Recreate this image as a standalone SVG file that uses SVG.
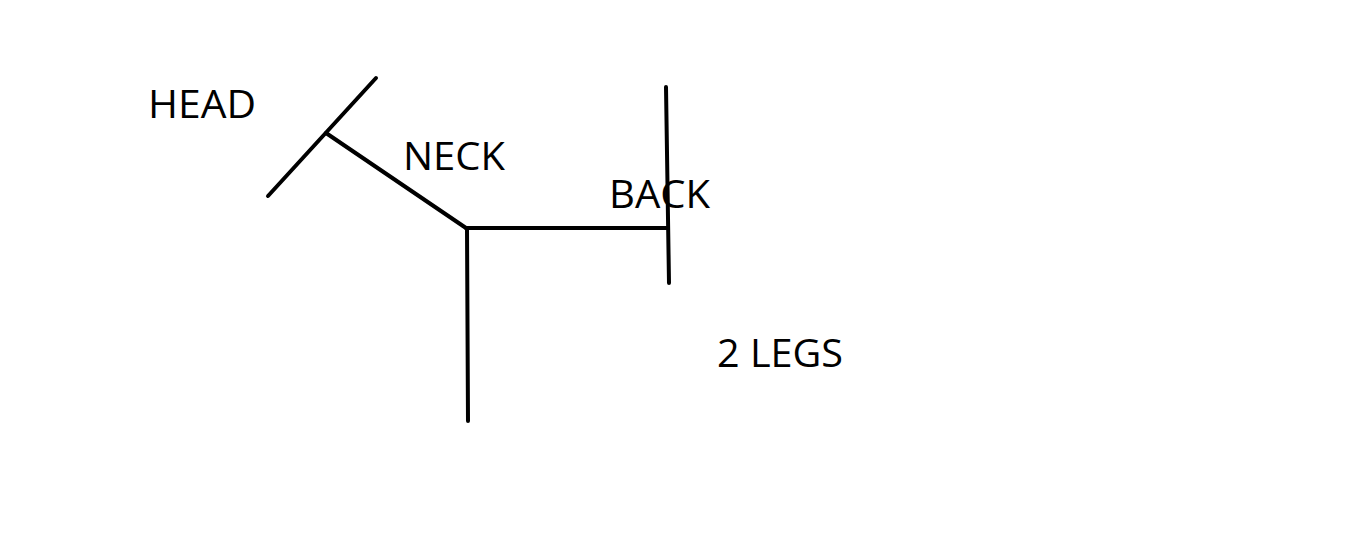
<svg xmlns="http://www.w3.org/2000/svg" width="1360" height="559" viewBox="0 0 1360 559">
<style>
.l{stroke:#000;stroke-width:4;stroke-linecap:round;fill:none}
.t{font-family:"Open Sans","Liberation Sans",sans-serif;font-size:38px;fill:#000}
</style>
<rect width="1360" height="559" fill="#fff"/>
<g id="connectors">
<line class="l" x1="268" y1="196" x2="376" y2="78"/>
<line class="l" x1="326" y1="133" x2="466" y2="228"/>
<line class="l" x1="466" y1="228" x2="668" y2="228"/>
<line class="l" x1="467" y1="228" x2="468" y2="421"/>
<line class="l" x1="666" y1="87" x2="669" y2="283"/>
</g>
<g id="head"><text class="t" x="148" y="118" textLength="108" lengthAdjust="spacingAndGlyphs">HEAD</text></g>
<g id="neck"><text class="t" x="403" y="170" textLength="102" lengthAdjust="spacingAndGlyphs">NECK</text></g>
<g id="back"><text class="t" x="609" y="208" textLength="101" lengthAdjust="spacingAndGlyphs">BACK</text></g>
<g id="legs"><text class="t" x="717" y="367" textLength="126" lengthAdjust="spacingAndGlyphs">2 LEGS</text></g>
</svg>
